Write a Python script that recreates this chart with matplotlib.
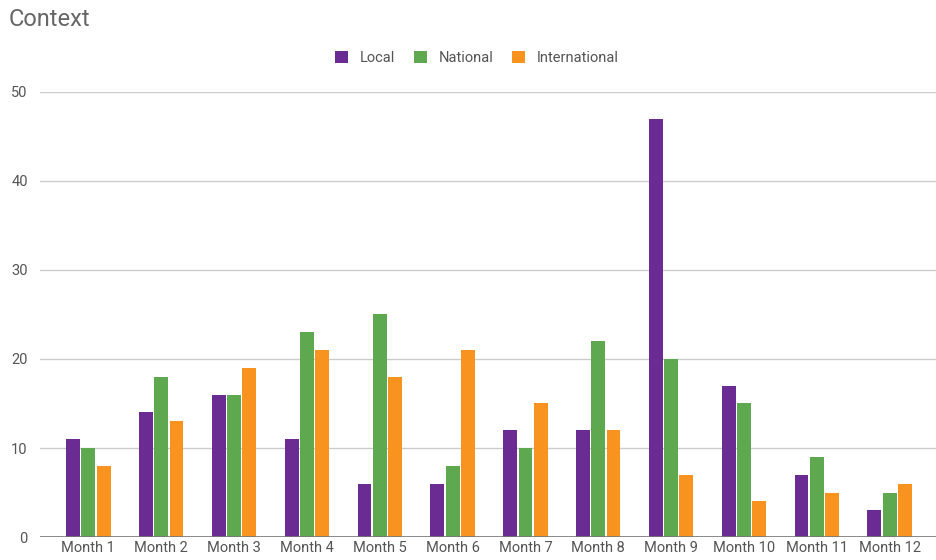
import numpy as np
import matplotlib
matplotlib.use("Agg")
import matplotlib.pyplot as plt
from matplotlib.patches import Patch

months = ["Month %d" % i for i in range(1, 13)]
local = [11, 14, 16, 11, 6, 6, 12, 12, 47, 17, 7, 3]
national = [10, 18, 16, 23, 25, 8, 10, 22, 20, 15, 9, 5]
international = [8, 13, 19, 21, 18, 21, 15, 12, 7, 4, 5, 6]
series_names = ["Local", "National", "International"]
colors = ["#6a2c93", "#5ea850", "#f7931e"]

plt.rcParams["font.family"] = ["Roboto", "DejaVu Sans"]

fig = plt.figure(figsize=(9.37, 5.6), dpi=100)
ax = fig.add_axes([0.043, 0.041, 0.957, 0.795])

x = np.arange(len(months))
stride = 0.21
width = 0.19
for i, (vals, c) in enumerate(zip([local, national, international], colors)):
    ax.bar(x + (i - 1) * stride, vals, width=width, color=c, zorder=3)

ax.set_xlim(-0.66, 11.65)
ax.set_ylim(0, 50)
ax.set_yticks([0, 10, 20, 30, 40, 50])
ax.set_xticks(x)
ax.set_xticklabels(months)
ax.grid(axis="y", color="#cccccc", linewidth=1, zorder=0)
ax.axhline(0, color="#777777", linewidth=1.2, zorder=4)
for s in ax.spines.values():
    s.set_visible(False)
ax.tick_params(axis="both", length=0, labelsize=10.5, labelcolor="#555555")
ax.tick_params(axis="x", pad=3)
ax.tick_params(axis="y", pad=9)

fig.text(0.009, 0.965, "Context", fontsize=17, color="#666666", va="center", ha="left")

handles = [Patch(facecolor=c, edgecolor="none") for c in colors]
fig.legend(handles, series_names, loc="center", bbox_to_anchor=(0.509, 0.897),
           ncol=3, frameon=False, fontsize=10.5, handlelength=0.9, handleheight=0.9,
           columnspacing=1.3, handletextpad=0.8, labelcolor="#555555")

fig.savefig("out.png", dpi=100, facecolor="white")
